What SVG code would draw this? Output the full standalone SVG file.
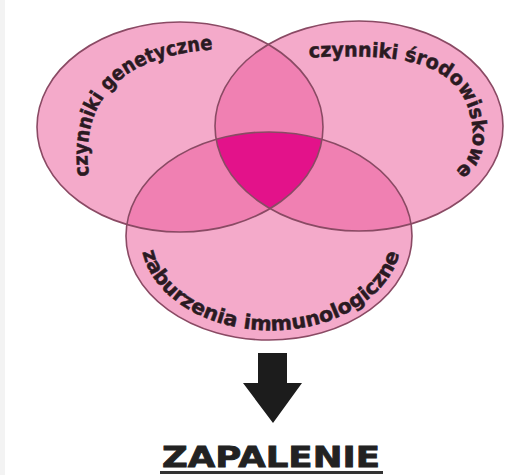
<svg xmlns="http://www.w3.org/2000/svg" width="516" height="475" viewBox="0 0 516 475">
<style>
.base{fill:#f4aaca}
.dbl{fill:#f080b2}
.tri{fill:#e3128a}
.edge{fill:none;stroke:#8a4a64;stroke-width:1.6}
.lbl{font-family:"DejaVu Sans","Liberation Sans",Arial,sans-serif;font-weight:bold;font-size:20px;fill:#2a1a22;stroke:#2a1a22;stroke-width:0.5}
.title{font-family:"DejaVu Sans","Liberation Sans",Arial,sans-serif;font-weight:bold;font-size:29px;fill:#222;stroke:#222;stroke-width:0.8}
</style>
<defs>
<ellipse id="eL" cx="180" cy="127" rx="143" ry="105"/>
<ellipse id="eR" cx="359" cy="126" rx="144" ry="105"/>
<ellipse id="eB" cx="269" cy="236" rx="143" ry="104"/>
<clipPath id="cL"><use href="#eL"/></clipPath>
<clipPath id="cR"><use href="#eR"/></clipPath>
<clipPath id="cB"><use href="#eB"/></clipPath>
<path id="pL" d="M 89,176 C 79,100 121,51 228,49"/>
<path id="pR" d="M 305,58 C 400,52 452,62 468,108 C 480,145 470,172 432,180"/>
<path id="pB" d="M 141,238 A 128 91 0 0 0 401,238"/>
</defs>
<rect x="0" y="0" width="5" height="475" fill="#f3f3f3"/>
<g id="fills">
<use href="#eL" class="base"/>
<use href="#eR" class="base"/>
<use href="#eB" class="base"/>
<g clip-path="url(#cL)"><use href="#eR" class="dbl"/><use href="#eB" class="dbl"/></g>
<g clip-path="url(#cR)"><use href="#eB" class="dbl"/></g>
<g clip-path="url(#cL)"><g clip-path="url(#cR)"><use href="#eB" class="tri"/></g></g>
</g>
<g id="node-genetyczne">
<use href="#eL" class="edge"/>
<text class="lbl"><textPath href="#pL" textLength="205" lengthAdjust="spacingAndGlyphs">czynniki genetyczne</textPath></text>
</g>
<g id="node-srodowiskowe">
<use href="#eR" class="edge"/>
<text class="lbl"><textPath href="#pR" startOffset="4" textLength="248" lengthAdjust="spacingAndGlyphs">czynniki środowiskowe</textPath></text>
</g>
<g id="node-immunologiczne">
<use href="#eB" class="edge"/>
<text class="lbl" font-size="19"><textPath href="#pB" startOffset="14" textLength="322" lengthAdjust="spacingAndGlyphs">zaburzenia immunologiczne</textPath></text>
</g>
<g id="connectors">
<polygon points="258,353 287,353 287,383 302,383 273,423 243,383 258,383" fill="#1c1c1c"/>
</g>
<g id="node-zapalenie">
<text class="title" x="162" y="467" textLength="218" lengthAdjust="spacingAndGlyphs">ZAPALENIE</text>
<rect x="160" y="471" width="223" height="3" fill="#333"/>
</g>
</svg>
